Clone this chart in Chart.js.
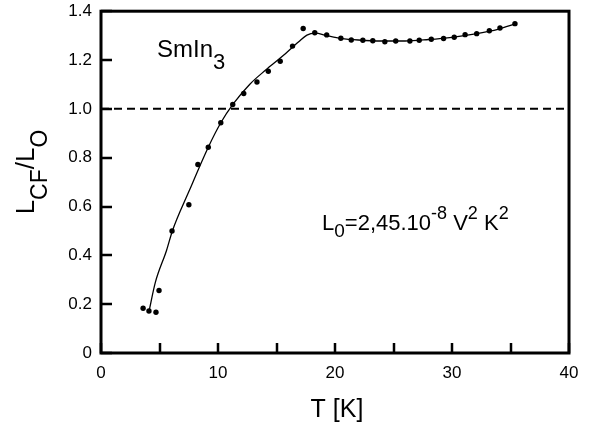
<!DOCTYPE html>
<html>
<head>
<meta charset="utf-8">
<script src="https://cdn.jsdelivr.net/npm/chart.js@4/dist/chart.umd.min.js"></script>
<style>
html,body{margin:0;padding:0;background:#fff;}
canvas{display:block;}
</style>
</head>
<body>
<canvas id="c" width="603" height="425"></canvas>
<script>
// Measured points: temperature T [K] and ratio L_CF/L_0
const temps = [3.6, 4.1, 4.7, 4.96, 6.07, 7.51, 8.28, 9.17, 10.24, 11.26, 12.2, 13.33, 14.3, 15.32, 16.37, 17.28, 18.27, 19.29, 20.5, 21.39, 22.38, 23.23, 24.26, 25.19, 26.4, 27.2, 28.23, 29.28, 30.19, 31.12, 32.11, 33.19, 34.1, 35.38];
const ratios = [0.183, 0.172, 0.167, 0.256, 0.50, 0.607, 0.772, 0.843, 0.943, 1.018, 1.063, 1.110, 1.154, 1.195, 1.257, 1.329, 1.312, 1.303, 1.289, 1.282, 1.281, 1.279, 1.275, 1.278, 1.278, 1.281, 1.285, 1.288, 1.293, 1.304, 1.308, 1.320, 1.331, 1.349];
// Fitted curve
const fitTemps = [4.1, 4.65, 5.6, 6.1, 7.5, 9.17, 10.24, 11.3, 12.7, 14.1, 15.5, 16.9, 17.6, 18.3, 19.3, 20.5, 22, 24, 26, 28, 30, 32, 34, 35.4];
const fitRatios = [0.17, 0.29, 0.42, 0.50, 0.66, 0.843, 0.943, 1.02, 1.10, 1.16, 1.215, 1.275, 1.302, 1.31, 1.30, 1.289, 1.282, 1.278, 1.278, 1.284, 1.293, 1.307, 1.327, 1.348];
// Reference level
const refTemps = [0, 40];
const refRatios = [1.0, 1.0];
// Axis ranges / ticks
const xMin = 0, xMax = 40, xStep = 5, xLabelStep = 10;
const yMin = 0, yMax = 1.4, yStep = 0.2;

const FONT = "'Liberation Sans', Arial, sans-serif";

function pts(xs, ys){ return xs.map((x,i)=>({x:x, y:ys[i]})); }

function drawSegs(ctx, segs, x, y){
  let cx = x;
  for (const s of segs){
    ctx.font = s[1] + 'px ' + FONT;
    ctx.fillText(s[0], cx, y + (s[2]||0));
    cx += ctx.measureText(s[0]).width;
  }
  return cx - x;
}
function segsWidth(ctx, segs){
  let w = 0;
  for (const s of segs){ ctx.font = s[1] + 'px ' + FONT; w += ctx.measureText(s[0]).width; }
  return w;
}

const decor = {
  id: 'decor',
  afterDraw(chart){
    const ctx = chart.ctx;
    const a = chart.chartArea;
    const xs = chart.scales.x, ys = chart.scales.y;
    ctx.save();
    ctx.strokeStyle = '#000';
    ctx.fillStyle = '#000';
    ctx.lineWidth = 3;
    ctx.strokeRect(a.left, a.top, a.right - a.left, a.bottom - a.top);
    ctx.lineWidth = 2.5;
    ctx.beginPath();
    xs.ticks.forEach(t => {
      const px = Math.round(xs.getPixelForValue(t.value));
      ctx.moveTo(px, a.bottom);
      ctx.lineTo(px, a.bottom - 10);
    });
    ys.ticks.forEach(t => {
      const py = Math.round(ys.getPixelForValue(t.value));
      ctx.moveTo(a.left, py);
      ctx.lineTo(a.left + 11, py);
    });
    ctx.stroke();

    ctx.textAlign = 'left';
    ctx.textBaseline = 'alphabetic';
    drawSegs(ctx, [['SmIn', 24, 0], ['3', 22, 12]], 157, 57);
    drawSegs(ctx, [['L', 22, 0], ['0', 19, 7], ['=2,45.10', 22, 0], ['-8', 18, -11], [' V', 22, 0], ['2', 18, -11], [' K', 22, 0], ['2', 18, -11]], 322, 230);

    ctx.font = '25px ' + FONT;
    ctx.textAlign = 'center';
    ctx.fillText('T [K]', 337, 417);

    const ysegs = [['L', 26, 0], ['CF', 23, 13], ['/L', 26, 0], ['O', 23, 13]];
    ctx.textAlign = 'left';
    const w = segsWidth(ctx, ysegs);
    ctx.translate(34, 172);
    ctx.rotate(-Math.PI/2);
    drawSegs(ctx, ysegs, -w/2, 0);
    ctx.restore();
  }
};

new Chart(document.getElementById('c'), {
  type: 'scatter',
  data: {
    datasets: [
      {
        label: 'ref',
        data: pts(refTemps, refRatios),
        showLine: true,
        borderColor: '#000',
        borderWidth: 2,
        borderDash: [8, 5],
        pointRadius: 0,
        fill: false
      },
      {
        label: 'fit',
        data: pts(fitTemps, fitRatios),
        showLine: true,
        borderColor: '#000',
        borderWidth: 1.3,
        cubicInterpolationMode: 'monotone',
        pointRadius: 0,
        fill: false
      },
      {
        label: 'data',
        data: pts(temps, ratios),
        showLine: false,
        pointRadius: 2.7,
        pointBackgroundColor: '#000',
        pointBorderColor: '#000',
        pointBorderWidth: 0
      }
    ]
  },
  options: {
    responsive: false,
    animation: false,
    devicePixelRatio: 1,
    layout: { padding: { top: 4, right: 34, left: 0, bottom: 0 } },
    plugins: { legend: { display: false }, tooltip: { enabled: false } },
    scales: {
      x: {
        type: 'linear',
        min: xMin, max: xMax,
        grid: { display: false },
        border: { display: false },
        ticks: {
          stepSize: xStep,
          color: '#000',
          padding: 2,
          maxRotation: 0,
          autoSkip: false,
          font: { family: FONT, size: 17 },
          callback: v => (Math.abs(v % xLabelStep) < 1e-9 ? String(v) : '')
        },
        afterFit: s => { s.height = 72; }
      },
      y: {
        type: 'linear',
        min: yMin, max: yMax,
        grid: { display: false },
        border: { display: false },
        ticks: {
          stepSize: yStep,
          color: '#000',
          padding: 1,
          font: { family: FONT, size: 17 },
          callback: v => (Math.abs(v) < 1e-9 ? '0' : Number(v).toFixed(1))
        },
        afterFit: s => { s.width = 101; }
      }
    }
  },
  plugins: [decor]
});
</script>
</body>
</html>
